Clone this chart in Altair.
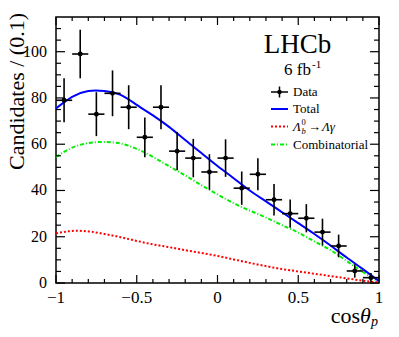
import altair as alt
import pandas as pd

# ---- data ----
bin_centers = [-0.95, -0.85, -0.75, -0.65, -0.55, -0.45, -0.35, -0.25, -0.15, -0.05,
               0.05, 0.15, 0.25, 0.35, 0.45, 0.55, 0.65, 0.75, 0.85, 0.95]
counts = [79, 99, 73, 82, 76, 63, 76, 57, 54, 48, 54, 41, 47, 36, 30, 28, 22, 16, 5.2, 2.3]
errors = [9.5, 10.5, 9.5, 9.9, 9.5, 8.6, 9.5, 8.3, 8.3, 7.7, 8.1, 7.2, 6.9, 6.8, 6.1, 6.1, 5.8, 4.9, 2.9, 2.0]
bin_half = 0.05

curve_x = [-1.0, -0.9, -0.8, -0.7, -0.6, -0.5, -0.4, -0.3, -0.2, -0.1, 0.0,
           0.1, 0.2, 0.3, 0.4, 0.5, 0.6, 0.7, 0.8, 0.9, 1.0]
total = [75.5, 80.5, 83.0, 83.0, 81.3, 77.0, 72.5, 67.5, 61.8, 56.2, 50.6,
         45.3, 40.0, 35.3, 30.6, 25.9, 21.2, 16.2, 11.0, 6.0, 0.8]
signal = [21.5, 22.5, 22.3, 21.2, 19.8, 18.2, 16.7, 15.5, 14.2, 13.0, 11.7,
          10.2, 8.7, 7.3, 6.0, 5.0, 4.0, 3.0, 2.0, 1.0, 0.2]
comb = [54.5, 58.5, 60.5, 61.0, 60.3, 58.0, 54.5, 50.5, 46.5, 42.3, 38.3,
        34.5, 31.3, 28.3, 25.0, 21.8, 18.0, 14.2, 9.5, 4.8, 0.3]

x_major = [-1.0, -0.5, 0.0, 0.5, 1.0]
x_labels = ["\u22121", "\u22120.5", "0", "0.5", "1"]
x_minor = [-0.9, -0.8, -0.7, -0.6, -0.4, -0.3, -0.2, -0.1, 0.1, 0.2, 0.3, 0.4, 0.6, 0.7, 0.8, 0.9]
y_major = [0, 20, 40, 60, 80, 100]
y_labels = ["0", "20", "40", "60", "80", "100"]
y_minor = [5, 10, 15, 25, 30, 35, 45, 50, 55, 65, 70, 75, 85, 90, 95, 105, 110]

W, H = 323, 266
FONT = "Liberation Serif"
xs = alt.Scale(domain=[-1, 1], nice=False, zero=False)
ys = alt.Scale(domain=[0, 115], nice=False, zero=False)

data = pd.DataFrame({"x": bin_centers, "y": counts, "e": errors})
data["lo"] = data["y"] - data["e"]
data["hi"] = data["y"] + data["e"]
data["xl"] = data["x"] - bin_half
data["xr"] = data["x"] + bin_half

curves = pd.DataFrame({"x": curve_x, "total": total, "signal": signal, "comb": comb})


def curve(col, color, dash=None):
    kw = dict(color=color, strokeWidth=2, interpolate="natural")
    if dash:
        kw["strokeDash"] = dash
    return alt.Chart(curves).mark_line(**kw).encode(
        x=alt.X("x:Q", scale=xs, axis=None),
        y=alt.Y(f"{col}:Q", scale=ys, axis=None),
    )


comb_line = curve("comb", "#00ee00", [4, 2, 1, 2])
sig_line = curve("signal", "#ff0000", [2, 2])
tot_line = curve("total", "#0000ff")

vbars = alt.Chart(data).mark_rule(color="black", strokeWidth=1.6).encode(
    x=alt.X("x:Q", scale=xs, axis=None),
    y=alt.Y("lo:Q", scale=ys, axis=None),
    y2="hi:Q",
)
hbars = alt.Chart(data).mark_rule(color="black", strokeWidth=1.6).encode(
    x=alt.X("xl:Q", scale=xs, axis=None),
    x2="xr:Q",
    y=alt.Y("y:Q", scale=ys, axis=None),
)
points = alt.Chart(data).mark_point(filled=True, color="black", size=24, opacity=1).encode(
    x=alt.X("x:Q", scale=xs, axis=None),
    y=alt.Y("y:Q", scale=ys, axis=None),
)

# tick labels
xlab = alt.Chart(pd.DataFrame({"v": x_major, "t": x_labels})).mark_text(
    font=FONT, fontSize=17, color="black", align="center", baseline="top").encode(
    x=alt.X("v:Q", scale=xs, axis=None), y=alt.value(H + 7), text="t:N")
ylab = alt.Chart(pd.DataFrame({"v": y_major, "t": y_labels})).mark_text(
    font=FONT, fontSize=16, color="black", align="right", baseline="middle").encode(
    y=alt.Y("v:Q", scale=ys, axis=None), x=alt.value(-9), text="t:N")


def xticks(vals, length, top):
    y0, y1 = (0, length) if top else (H, H - length)
    return alt.Chart(pd.DataFrame({"v": vals})).mark_rule(color="black", strokeWidth=1.2).encode(
        x=alt.X("v:Q", scale=xs, axis=None), y=alt.value(y0), y2=alt.value(y1))


def yticks(vals, length, right):
    x0, x1 = (W, W - length) if right else (0, length)
    return alt.Chart(pd.DataFrame({"v": vals})).mark_rule(color="black", strokeWidth=1.2).encode(
        y=alt.Y("v:Q", scale=ys, axis=None), x=alt.value(x0), x2=alt.value(x1))


ticks = [xticks(x_major, 8, False), xticks(x_minor, 4, False),
         xticks(x_major, 8, True), xticks(x_minor, 4, True),
         yticks(y_major, 9, False), yticks(y_minor, 5, False),
         yticks(y_major, 9, True), yticks(y_minor, 5, True)]

one = pd.DataFrame({"a": [0]})


def text(s, x, y, size, align="left", baseline="alphabetic", style="normal", angle=0):
    kw = dict(text=s, font=FONT, fontSize=size, align=align, baseline=baseline,
              fontStyle=style, color="black")
    if angle:
        kw["angle"] = angle
    return alt.Chart(one).mark_text(**kw).encode(x=alt.value(x), y=alt.value(y))


def lrule(x1, x2, y, color, dash=None, width=2):
    kw = dict(color=color, strokeWidth=width)
    if dash:
        kw["strokeDash"] = dash
    return alt.Chart(one).mark_rule(**kw).encode(x=alt.value(x1), x2=alt.value(x2), y=alt.value(y))


LX1, LX2, TX = 215, 232, 237
annots = [
    text("LHCb", 241.5, 36, 27, align="center"),
    text("6 fb", 228, 58, 17),
    text("-1", 256, 51, 11),
    # legend: Data
    lrule(LX1, LX2, 75, "black", width=1.5),
    alt.Chart(one).mark_rule(color="black", strokeWidth=1.5).encode(
        x=alt.value(223.5), y=alt.value(69.5), y2=alt.value(80.5)),
    alt.Chart(one).mark_point(filled=True, color="black", size=20, opacity=1).encode(
        x=alt.value(223.5), y=alt.value(75)),
    text("Data", TX, 75, 13, baseline="middle"),
    # Total
    lrule(LX1, LX2, 92, "#0000ff"),
    text("Total", TX, 92, 13, baseline="middle"),
    # signal
    lrule(LX1, LX2, 109.5, "#ff0000", [2, 2]),
    text("\u039b", TX, 114, 13, style="italic"),
    text("0", 245.5, 108, 8.5),
    text("b", 245.5, 117, 8.5, style="italic"),
    text("\u2192", 252, 114, 13),
    text("\u039b\u03b3", 266, 114, 13, style="italic"),
    # combinatorial
    lrule(LX1, LX2, 127.5, "#00ee00", [4, 2, 1, 2]),
    text("Combinatorial", TX, 127.5, 13, baseline="middle"),
    # axis titles
    text("cos", 304, 306, 22, align="right"),
    text("\u03b8", 304, 306, 22, style="italic"),
    text("p", 315, 309, 14, style="italic"),
    text("Candidates / (0.1)", -32, -4, 22, align="right", angle=270),
]

chart = alt.layer(
    comb_line, sig_line, tot_line, vbars, hbars, points, xlab, ylab, *ticks, *annots
).properties(
    width=W, height=H,
    padding={"left": 48, "top": 9, "right": 10, "bottom": 46},
    autosize="none",
).configure_view(stroke="black", strokeWidth=1.5)

chart.save("out.html", embed_options={"renderer": "svg", "actions": False})
